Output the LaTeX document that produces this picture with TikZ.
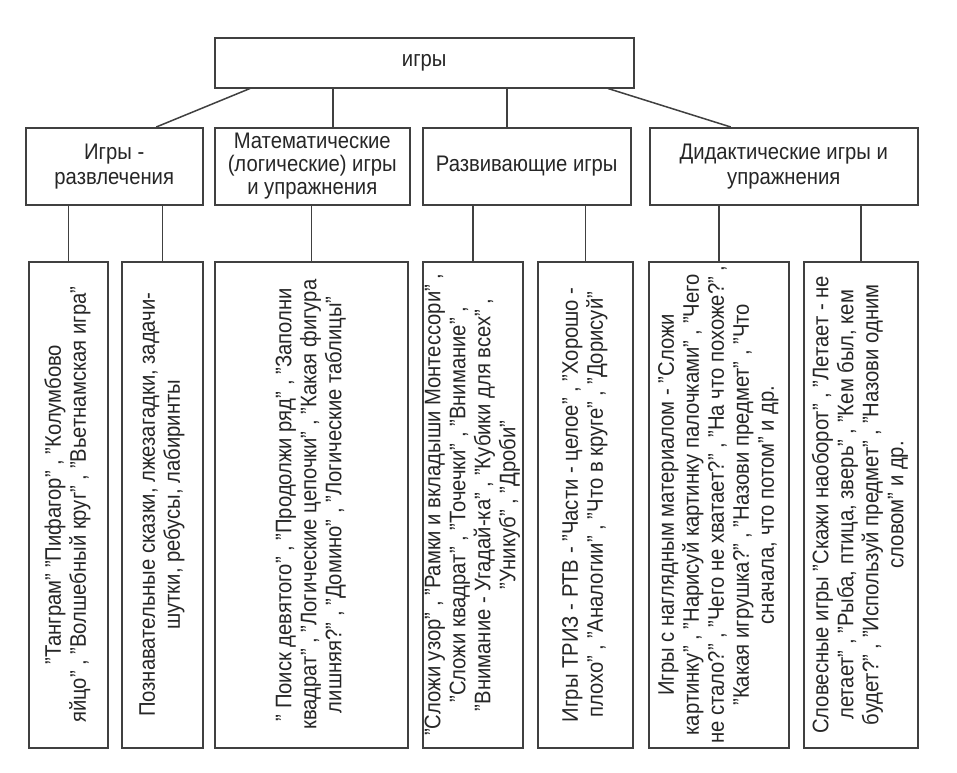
\documentclass[tikz,border=0pt]{standalone}
\usepackage{fontspec}
\setmainfont[FakeStretch=0.9]{Liberation Sans}
\usepackage{graphicx}
\newcommand\vtext[1]{\rotatebox{90}{\begin{tabular}{@{}c@{}}#1\end{tabular}}}
\tikzset{
  box/.style={draw=black!75, line width=1.5pt, inner sep=0pt, anchor=north west,
    align=center, text=black!85, font=\fontsize{22.5}{25}\selectfont},
  conn/.style={draw=black!75, line width=1.5pt},
}
\begin{document}
\begin{tikzpicture}[x=1pt,y=-1pt]
\useasboundingbox[fill=white] (0,0) rectangle (957,772);
% top
\node[box, minimum width=419, minimum height=50] (top) at (214,37) {игры};
% level 2
\node[box, minimum width=177, minimum height=77] (b1) at (25,127) {Игры -\\развлечения};
\node[box, minimum width=195, minimum height=77, font=\fontsize{22.5}{23}\selectfont] (b2) at (214,127) {Математические\\(логические) игры\\и упражнения};
\node[box, minimum width=208, minimum height=77] (b3) at (422,127) {Развивающие игры};
\node[box, minimum width=268, minimum height=77] (b4) at (649,127) {Дидактические игры и\\упражнения};
% level 3
\node[box, minimum width=79, minimum height=486] (a) at (28,261) {\vtext{"Танграм" "Пифагор" , "Колумбово\\яйцо" , "Волшебный круг" , "Вьетнамская игра"}};
\node[box, minimum width=81, minimum height=486] (b) at (121,261) {\vtext{Познавательные сказки, лжезагадки, задачи-\\шутки, ребусы, лабиринты}};
\node[box, minimum width=193, minimum height=486] (c) at (214,261) {\vtext{" Поиск девятого" , "Продолжи ряд" , "Заполни\\квадрат" , "Логические цепочки" , "Какая фигура\\лишняя?" , "Домино" , "Логические таблицы"}};
\node[box, minimum width=99, minimum height=486] (d) at (422,261) {\vtext{"Сложи узор" , "Рамки и вкладыши Монтессори" ,\\"Сложи квадрат" , "Точечки" , "Внимание" ,\\"Внимание - Угадай-ка" , "Кубики для всех" ,\\"Уникуб" , "Дроби"}};
\node[box, minimum width=95, minimum height=486] (e) at (537,261) {\vtext{Игры ТРИЗ - РТВ - "Части - целое" , "Хорошо -\\плохо" , "Аналогии" , "Что в круге" , "Дорисуй"}};
\node[box, minimum width=140, minimum height=486] (f) at (648,261) {\vtext{Игры с наглядным материалом - "Сложи\\картинку" , "Нарисуй картинку палочками" , "Чего\\не стало?" , "Чего не хватает?" , "На что похоже?" ,\\"Какая игрушка?" , "Назови предмет" , "Что\\сначала, что потом" и др.}};
\node[box, minimum width=114, minimum height=486] (g) at (803,261) {\vtext{Словесные игры "Скажи наоборот" , "Летает - не\\летает" , "Рыба, птица, зверь" , "Кем был, кем\\будет?" , "Используй предмет" , "Назови одним\\словом" и др.}};
% connectors top -> level 2
\coordinate (t1) at ([xshift=36pt]top.south west);
\coordinate (t2) at ([xshift=119pt]top.south west);
\coordinate (t3) at ([xshift=293pt]top.south west);
\coordinate (t4) at ([xshift=394pt]top.south west);
\coordinate (e1) at ([xshift=42pt]b1.north);
\coordinate (e4) at ([xshift=-53pt]b4.north);
\draw[conn] (t1) -- (e1);
\draw[conn] (t2) -- (t2 |- b2.north);
\draw[conn] (t3) -- (t3 |- b3.north);
\draw[conn] (t4) -- (e4);
% connectors level 2 -> level 3
\draw[conn] (a.north) -- (a.north |- b1.south);
\draw[conn] (b.north) -- (b.north |- b1.south);
\draw[conn] (c.north) -- (c.north |- b2.south);
\draw[conn] (d.north) -- (d.north |- b3.south);
\draw[conn] (e.north) -- (e.north |- b3.south);
\draw[conn] (f.north) -- (f.north |- b4.south);
\draw[conn] (g.north) -- (g.north |- b4.south);
\end{tikzpicture}
\end{document}
